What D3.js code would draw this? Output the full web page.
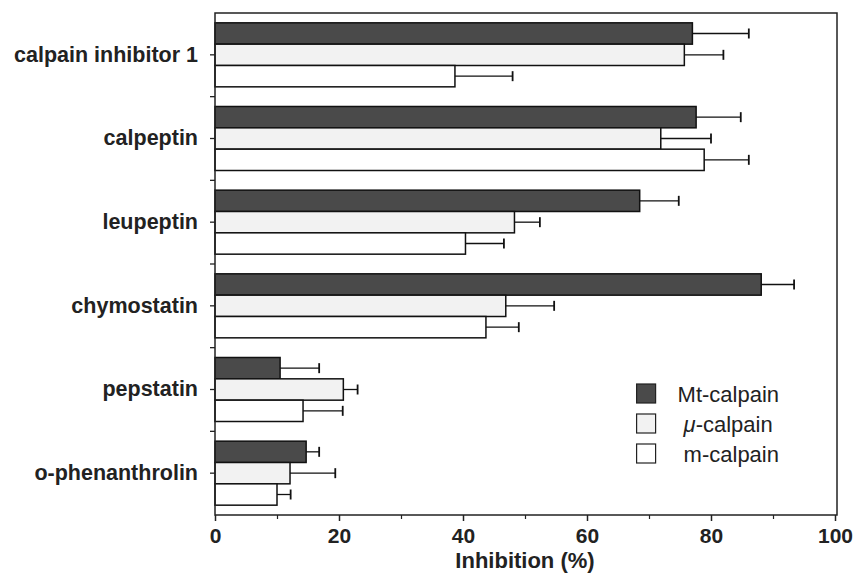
<!DOCTYPE html>
<html>
<head>
<meta charset="utf-8">
<script src="https://cdn.jsdelivr.net/npm/d3@7"></script>
<style>
  body { margin: 0; background: #fff; }
  svg { display: block; font-family: "Liberation Sans", Arial, sans-serif; }
</style>
</head>
<body>
<div class="chart"></div>
<script>
// inhibitors, top to bottom
const categories = ["calpain inhibitor 1", "calpeptin", "leupeptin", "chymostatin", "pepstatin", "o-phenanthrolin"];

// inhibition (%) and error bar length for each enzyme
const mtValues = [77.0, 77.6, 68.5, 88.1, 10.5, 14.7];
const mtErrors = [9.1, 7.2, 6.3, 5.3, 6.3, 2.1];
const muValues = [75.7, 71.9, 48.3, 46.9, 20.7, 12.1];
const muErrors = [6.3, 8.1, 4.1, 7.8, 2.3, 7.3];
const mValues  = [38.7, 78.9, 40.4, 43.7, 14.2, 10.0];
const mErrors  = [9.3, 7.2, 6.2, 5.3, 6.4, 2.2];

const seriesNames = ["Mt-calpain", "\u03bc-calpain", "m-calpain"];
const xTicks = [0, 20, 40, 60, 80, 100];
const xMinorTicks = [10, 30, 50, 70, 90];

const series = [
    {name: seriesNames[0], values: mtValues, errors: mtErrors, fill: "#4a4a4a"},
    {name: seriesNames[1], values: muValues, errors: muErrors, fill: "#f2f2f2"},
    {name: seriesNames[2], values: mValues,  errors: mErrors,  fill: "#ffffff"}
];

const margin = {top: 13, right: 19, bottom: 60, left: 215};
const width = 856 - margin.left - margin.right;
const height = 575 - margin.top - margin.bottom;

const svg = d3.select(".chart").append("svg")
    .attr("width", 856)
    .attr("height", 575);

const g = svg.append("g")
    .attr("transform", `translate(${margin.left},${margin.top})`);

const x = d3.scaleLinear().domain([0, 100]).range([0, width - 2]);

const y = d3.scaleBand()
    .domain(categories)
    .range([0, height])
    .paddingInner(0.235)
    .paddingOuter(0.1175);

const y1 = d3.scaleBand()
    .domain(seriesNames)
    .range([0, y.bandwidth()]);

// bars
series.forEach(s => {
    g.selectAll(null)
        .data(categories)
        .join("rect")
        .attr("x", x(0))
        .attr("y", c => y(c) + y1(s.name))
        .attr("width", (c, i) => x(s.values[i]) - x(0))
        .attr("height", y1.bandwidth())
        .attr("fill", s.fill)
        .attr("stroke", "#111")
        .attr("stroke-width", 1.5);

    // error bars
    const err = g.selectAll(null)
        .data(categories)
        .join("g")
        .attr("transform", c => `translate(0,${y(c) + y1(s.name) + y1.bandwidth() / 2})`);
    err.append("line")
        .attr("x1", (c, i) => x(s.values[i]))
        .attr("x2", (c, i) => x(s.values[i] + s.errors[i]))
        .attr("stroke", "#111")
        .attr("stroke-width", 1.3);
    err.append("line")
        .attr("x1", (c, i) => x(s.values[i] + s.errors[i]))
        .attr("x2", (c, i) => x(s.values[i] + s.errors[i]))
        .attr("y1", -5)
        .attr("y2", 5)
        .attr("stroke", "#111")
        .attr("stroke-width", 1.8);
});

// frame
g.append("rect")
    .attr("x", 0)
    .attr("y", 0)
    .attr("width", width)
    .attr("height", height)
    .attr("fill", "none")
    .attr("stroke", "#222")
    .attr("stroke-width", 1.5);

// x axis
const xAxis = g.append("g")
    .attr("transform", `translate(0,${height})`)
    .call(d3.axisBottom(x).tickValues(xTicks).tickSize(6).tickPadding(7));
xAxis.select(".domain").remove();
xAxis.selectAll("line").attr("stroke", "#222").attr("stroke-width", 1.5);
xAxis.selectAll("text")
    .attr("font-size", 21)
    .attr("font-weight", "bold")
    .attr("fill", "#222");

const xMinor = g.append("g")
    .attr("transform", `translate(0,${height})`)
    .call(d3.axisBottom(x).tickValues(xMinorTicks).tickSize(4).tickFormat(""));
xMinor.select(".domain").remove();
xMinor.selectAll("line").attr("stroke", "#222").attr("stroke-width", 1.2);

g.append("text")
    .attr("x", x(50))
    .attr("y", height + 53)
    .attr("text-anchor", "middle")
    .attr("font-size", 22)
    .attr("font-weight", "bold")
    .attr("fill", "#222")
    .text("Inhibition (%)");

// y axis: labels at group centres
const yAxis = g.append("g")
    .call(d3.axisLeft(y).tickSize(5).tickPadding(12));
yAxis.select(".domain").remove();
yAxis.selectAll("line").attr("stroke", "#222").attr("stroke-width", 1.3);
yAxis.selectAll("text")
    .attr("font-size", 21.5)
    .attr("font-weight", "bold")
    .attr("fill", "#222");

// y axis: ticks between groups
g.selectAll(null)
    .data(categories.slice(1))
    .join("line")
    .attr("x1", -5)
    .attr("x2", 0)
    .attr("y1", c => y(c) - y.step() * y.paddingInner() / 2)
    .attr("y2", c => y(c) - y.step() * y.paddingInner() / 2)
    .attr("stroke", "#222")
    .attr("stroke-width", 1.3);

// legend
const legend = g.append("g")
    .attr("transform", `translate(${x(68)},${height - 131})`);
series.forEach((s, i) => {
    const row = legend.append("g").attr("transform", `translate(0,${i * 30})`);
    row.append("rect")
        .attr("width", 19)
        .attr("height", 19)
        .attr("fill", s.fill)
        .attr("stroke", "#222")
        .attr("stroke-width", 1.2);
    const t = row.append("text")
        .attr("x", i === 0 ? 41 : 47)
        .attr("y", 18)
        .attr("font-size", 22)
        .attr("fill", "#222");
    if (i === 1) {
        t.append("tspan").attr("font-style", "italic").text("\u03bc");
        t.append("tspan").text("-calpain");
    } else {
        t.text(s.name);
    }
});
</script>
</body>
</html>
